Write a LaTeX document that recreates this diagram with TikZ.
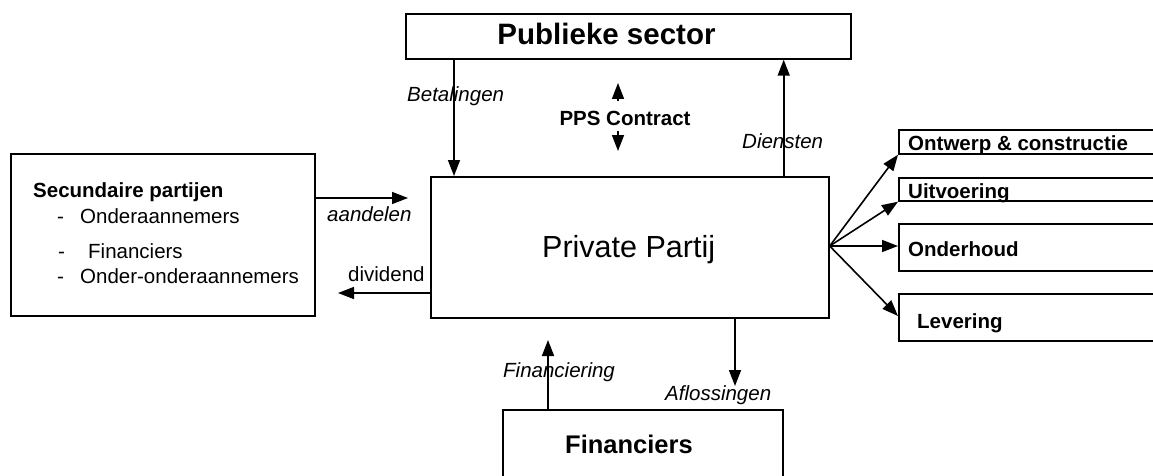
\documentclass[tikz,border=0pt]{standalone}
\usepackage{fontspec}
\setmainfont{Liberation Sans}
\usetikzlibrary{arrows.meta}
\tikzset{
  box/.style={draw, line width=1.7pt, inner sep=0pt, anchor=north west},
  arr/.style={line width=1.6pt, -{Triangle[length=16pt,width=12pt]}},
  lbl/.style={inner sep=0pt, anchor=base west, font=\fontsize{20.5}{24}\selectfont},
  lbli/.style={lbl, font=\fontsize{20.5}{24}\selectfont\itshape},
  lblb/.style={lbl, font=\fontsize{20.5}{24}\selectfont\bfseries},
}
\begin{document}
\begin{tikzpicture}[x=1pt,y=-1pt]
\useasboundingbox (0,0) rectangle (1153,476);
% boxes
\node[box, minimum width=445pt, minimum height=45pt] (pub) at (405,13) {};
\node[box, minimum width=398pt, minimum height=141pt] (priv) at (430,176) {};
\node[box, minimum width=304pt, minimum height=162pt] (sec) at (10,153) {};
\node[box, minimum width=280pt, minimum height=90pt] (fin) at (502,409) {};
\node[box, minimum width=262pt, minimum height=24pt] (ont) at (898,129) {};
\node[box, minimum width=262pt, minimum height=23pt] (uit) at (898,177) {};
\node[box, minimum width=262pt, minimum height=47pt] (ond) at (898,223) {};
\node[box, minimum width=262pt, minimum height=47pt] (lev) at (898,293) {};
% box texts
\node[lbl, anchor=base, font=\fontsize{29.5}{34}\selectfont\bfseries] (tpub) at (606.5,45) {Publieke sector};
\node[lbl, font=\fontsize{30.5}{35}\selectfont] (tpriv) at (542,257) {Private Partij};
\node[lbl, font=\fontsize{25.5}{30}\selectfont\bfseries] (tfin) at (565,453) {Financiers};
\node[lblb] (tsec) at (33,197) {Secundaire partijen};
\node[lbl] (d1) at (57,223) {-};
\node[lbl] (s1) at (80,223) {Onderaannemers};
\node[lbl] (d2) at (58,258) {-};
\node[lbl] (s2) at (88,258) {Financiers};
\node[lbl] (d3) at (57,283) {-};
\node[lbl] (s3) at (80,283) {Onder-onderaannemers};
\node[lblb] (tont) at (908,150) {Ontwerp \& constructie};
\node[lblb] (tuit) at (908,198) {Uitvoering};
\node[lblb] (tond) at (908,256) {Onderhoud};
\node[lblb] (tlev) at (917,328) {Levering};
% connector labels
\node[lbli] (lbet) at (407,102) {Betalingen};
\node[lblb, anchor=base] (lpps) at (625,126) {PPS Contract};
\node[lbli] (ldie) at (742,149) {Diensten};
\node[lbli] (laan) at (327,221) {aandelen};
\node[lbl] (ldiv) at (348,281) {dividend};
\node[lbli] (lfin) at (503,377) {Financiering};
\node[lbli] (lafl) at (665,400) {Aflossingen};
% free ends
\coordinate (ppsub) at (618,101);
\coordinate (ppsut) at (618,83);
\coordinate (ppsdb) at (618,131);
\coordinate (ppsdt) at (618,151);
\coordinate (aanend) at (408,198);
\coordinate (divend) at (338,293);
\coordinate (finend) at (548,340);
\coordinate (aflend) at (735,386);
\coordinate (fan) at ([yshift=-70pt]priv.north east);
% connectors
\draw[arr] ([xshift=49pt]pub.south west) -- ([xshift=24pt]priv.north west);
\draw[arr] ([xshift=-46pt]priv.north east) -- ([xshift=-68pt]pub.south east);
\draw[arr] (ppsub) -- (ppsut);
\draw[arr] (ppsdb) -- (ppsdt);
\draw[arr] (sec.north east |- aanend) -- (aanend);
\draw[arr] (priv.west |- divend) -- (divend);
\draw[arr] ([xshift=46pt]fin.north west) -- (finend);
\draw[arr] ([xshift=305pt]priv.south west) -- (aflend);
\draw[arr] (fan) -- (ont.south west);
\draw[arr] (fan) -- (uit.south west);
\draw[arr] (fan) -- (ond.west |- fan);
\draw[arr] (fan) -- ([yshift=-23pt]lev.north west);
\end{tikzpicture}
\end{document}
